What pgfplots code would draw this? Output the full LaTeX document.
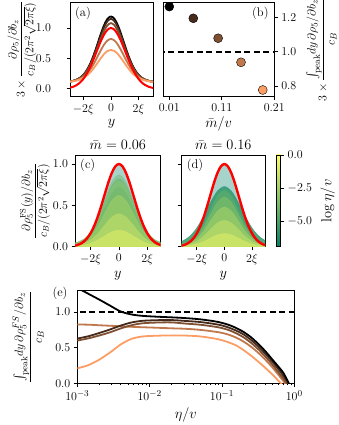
\documentclass[border=0pt]{standalone}
\usepackage{amsmath}
\usepackage{pgfplots}
\usepackage{pgfplotstable}
\pgfplotsset{compat=1.18}

% copper colours, one per mass
\definecolor{cu1}{RGB}{0,0,0}
\definecolor{cu2}{RGB}{70,42,27}
\definecolor{cu3}{RGB}{128,80,51}
\definecolor{cu4}{RGB}{192,120,76}
\definecolor{cu5}{RGB}{252,158,100}
% summer colours, one per log(eta/v)
\definecolor{sm1}{rgb}{0,0.5,0.4}
\definecolor{sm2}{rgb}{0.13,0.565,0.4}
\definecolor{sm3}{rgb}{0.275,0.638,0.4}
\definecolor{sm4}{rgb}{0.42,0.71,0.4}
\definecolor{sm5}{rgb}{0.565,0.783,0.4}
\definecolor{sm6}{rgb}{0.71,0.855,0.4}
\definecolor{sm7}{rgb}{0.826,0.913,0.4}
\definecolor{sm8}{rgb}{0.928,0.964,0.4}
\definecolor{smtop}{rgb}{1,1,0.4}

\pgfplotsset{
  every axis/.append style={
    scale only axis, anchor=south west,
    tick align=outside, tick pos=left,
    major tick length=3.5pt, minor tick length=2pt,
    axis line style={line width=0.8pt},
    tick style={black, line width=0.7pt},
    tick label style={font=\fontsize{12.5}{14}\selectfont},
    label style={font=\fontsize{14}{16}\selectfont},
    title style={font=\fontsize{14}{16}\selectfont},
  },
  fillc/.style={draw=#1, draw opacity=0.35, fill=#1, fill opacity=0.45, smooth},
}

% panel (a): profiles for five masses, and the gaussian
\pgfplotstableread{
x c1 c2 c3 c4 c5 r
-3.25 0.110 0.110 0.110 0.109 0.109 0.008
-3.00 0.118 0.118 0.118 0.117 0.116 0.017
-2.75 0.130 0.130 0.129 0.126 0.124 0.032
-2.50 0.149 0.148 0.147 0.140 0.136 0.059
-2.25 0.180 0.178 0.175 0.162 0.153 0.101
-2.00 0.230 0.227 0.220 0.195 0.179 0.163
-1.75 0.307 0.300 0.289 0.246 0.217 0.249
-1.50 0.415 0.405 0.386 0.317 0.270 0.360
-1.25 0.556 0.540 0.512 0.409 0.338 0.492
-1.00 0.722 0.699 0.661 0.517 0.417 0.635
-0.75 0.893 0.865 0.815 0.628 0.499 0.775
-0.50 1.046 1.012 0.951 0.727 0.572 0.893
-0.25 1.152 1.114 1.046 0.795 0.622 0.972
0.00 1.190 1.150 1.080 0.820 0.640 1.000
0.25 1.152 1.114 1.046 0.795 0.622 0.972
0.50 1.046 1.012 0.951 0.727 0.572 0.893
0.75 0.893 0.865 0.815 0.628 0.499 0.775
1.00 0.722 0.699 0.661 0.517 0.417 0.635
1.25 0.556 0.540 0.512 0.409 0.338 0.492
1.50 0.415 0.405 0.386 0.317 0.270 0.360
1.75 0.307 0.300 0.289 0.246 0.217 0.249
2.00 0.230 0.227 0.220 0.195 0.179 0.163
2.25 0.180 0.178 0.175 0.162 0.153 0.101
2.50 0.149 0.148 0.147 0.140 0.136 0.059
2.75 0.130 0.130 0.129 0.126 0.124 0.032
3.00 0.118 0.118 0.118 0.117 0.116 0.017
3.25 0.110 0.110 0.110 0.109 0.109 0.008
}\tabA

% panel (c): m = 0.06, one column per eta
\pgfplotstableread{
x f1 f2 f3 f4 f5 f6 f7 f8
-3.5 0.027 0.032 0.036 0.039 0.036 0.028 0.018 0.009
-3.0 0.037 0.044 0.050 0.053 0.049 0.038 0.024 0.012
-2.5 0.063 0.075 0.086 0.091 0.084 0.065 0.042 0.021
-2.0 0.124 0.148 0.169 0.179 0.165 0.128 0.082 0.041
-1.5 0.237 0.284 0.324 0.343 0.316 0.245 0.158 0.079
-1.0 0.393 0.472 0.538 0.570 0.524 0.406 0.262 0.131
-0.5 0.539 0.647 0.737 0.782 0.719 0.557 0.359 0.180
0.0 0.600 0.720 0.820 0.870 0.800 0.620 0.400 0.200
0.5 0.539 0.647 0.737 0.782 0.719 0.557 0.359 0.180
1.0 0.393 0.472 0.538 0.570 0.524 0.406 0.262 0.131
1.5 0.237 0.284 0.324 0.343 0.316 0.245 0.158 0.079
2.0 0.124 0.148 0.169 0.179 0.165 0.128 0.082 0.041
2.5 0.063 0.075 0.086 0.091 0.084 0.065 0.042 0.021
3.0 0.037 0.044 0.050 0.053 0.049 0.038 0.024 0.012
3.5 0.027 0.032 0.036 0.039 0.036 0.028 0.018 0.009
}\tabC

% panel (d): m = 0.16
\pgfplotstableread{
x f1 f2 f3 f4 f5 f6 f7 f8
-3.5 0.043 0.043 0.042 0.030 0.027 0.021 0.014 0.007
-3.0 0.072 0.071 0.070 0.042 0.037 0.029 0.020 0.010
-2.5 0.129 0.127 0.125 0.071 0.063 0.050 0.033 0.017
-2.0 0.229 0.226 0.223 0.140 0.124 0.099 0.066 0.033
-1.5 0.375 0.370 0.365 0.268 0.237 0.189 0.126 0.063
-1.0 0.541 0.533 0.526 0.446 0.393 0.315 0.210 0.105
-0.5 0.677 0.668 0.658 0.611 0.539 0.431 0.288 0.144
0.0 0.730 0.720 0.710 0.680 0.600 0.480 0.320 0.160
0.5 0.677 0.668 0.658 0.611 0.539 0.431 0.288 0.144
1.0 0.541 0.533 0.526 0.446 0.393 0.315 0.210 0.105
1.5 0.375 0.370 0.365 0.268 0.237 0.189 0.126 0.063
2.0 0.229 0.226 0.223 0.140 0.124 0.099 0.066 0.033
2.5 0.129 0.127 0.125 0.071 0.063 0.050 0.033 0.017
3.0 0.072 0.071 0.070 0.042 0.037 0.029 0.020 0.010
3.5 0.043 0.043 0.042 0.030 0.027 0.021 0.014 0.007
}\tabD

% panel (e): peak integral against eta/v
\pgfplotstableread{
eta c1 c2 c3 c4 c5
0.001    1.340 0.628 0.600 0.825 0.210
0.001413 1.258 0.660 0.630 0.823 0.254
0.001995 1.177 0.705 0.670 0.815 0.330
0.002818 1.092 0.755 0.715 0.808 0.430
0.003981 1.008 0.810 0.770 0.800 0.545
0.005623 0.966 0.854 0.815 0.793 0.624
0.007943 0.947 0.877 0.842 0.787 0.657
0.01259  0.935 0.886 0.853 0.780 0.668
0.01995  0.926 0.888 0.855 0.772 0.672
0.03162  0.915 0.875 0.838 0.765 0.670
0.05012  0.898 0.860 0.822 0.750 0.658
0.07943  0.870 0.832 0.795 0.725 0.628
0.1      0.848 0.812 0.775 0.708 0.605
0.1259   0.818 0.780 0.745 0.680 0.572
0.1585   0.775 0.738 0.700 0.640 0.530
0.1995   0.720 0.685 0.645 0.585 0.465
0.2512   0.648 0.610 0.570 0.515 0.390
0.3162   0.555 0.520 0.480 0.430 0.305
0.3981   0.450 0.415 0.375 0.330 0.216
0.5012   0.330 0.300 0.260 0.220 0.120
0.6310   0.210 0.175 0.130 0.095 0.015
0.7079   0.145 0.105 0.065 0.030 -0.040
0.7943   0.050 0.030 -0.010 -0.040 -0.090
0.8511   -0.010 -0.020 -0.060 -0.090 -0.130
}\tabE

\begin{document}
\begin{tikzpicture}
\path[use as bounding box] (0,0) rectangle (339pt,425pt);

% (a)
\begin{axis}[at={(70pt,328.3pt)}, width=83pt, height=94.2pt,
  xmin=-2.97, xmax=3.05, ymin=-0.13, ymax=1.42,
  xtick={-2,0,2}, xticklabels={$-2\xi$,$0$,$2\xi$},
  ytick={0,0.5,1}, yticklabels={$0.0$,$0.5$,$1.0$},
  yticklabel style={xshift=-12pt},
  xlabel={$y$}, xlabel style={yshift=2pt},
  ylabel={$3\times\dfrac{\partial\rho_5/\partial b_z}{c_B/(2\pi^2\sqrt{2\pi\xi})}$},
  ylabel style={at={(rel axis cs:0,0.5)}, anchor=center, yshift=48pt,
    font=\fontsize{11.5}{13}\selectfont}]
\addplot[cu1, line width=1.8pt, smooth] table[x=x, y=c1]{\tabA};
\addplot[cu2, line width=1.8pt, smooth] table[x=x, y=c2]{\tabA};
\addplot[cu3, line width=1.8pt, smooth] table[x=x, y=c3]{\tabA};
\addplot[cu4, line width=1.8pt, smooth] table[x=x, y=c4]{\tabA};
\addplot[cu5, line width=1.8pt, smooth] table[x=x, y=c5]{\tabA};
\addplot[red, line width=2pt, smooth] table[x=x, y=r]{\tabA};
\node[anchor=north west, font=\fontsize{12.5}{14}\selectfont] at (rel axis cs:0.02,0.99) {(a)};
\end{axis}

% (b)
\begin{axis}[at={(163pt,328.3pt)}, width=111.3pt, height=94.2pt,
  xmin=-0.002, xmax=0.21, ymin=0.738, ymax=1.286,
  clip marker paths=true,
  xtick={0.01,0.11,0.21}, xticklabels={$0.01$,$0.11$,$0.21$},
  ytick={0.8,1.0,1.2}, yticklabels={$0.8$,$1.0$,$1.2$},
  ytick pos=right, yticklabel pos=right,
  xlabel={$\bar m/v$}, xlabel style={yshift=2pt},
  ylabel={$3\times\dfrac{{\textstyle\int_{\mathrm{peak}}}dy\,\partial\rho_5/\partial b_z}{c_B}$},
  ylabel style={at={(rel axis cs:1,0.5)}, anchor=center, yshift=-47pt,
    font=\fontsize{12.5}{14}\selectfont}]
\addplot[black, line width=1.8pt, dash pattern=on 6pt off 3.5pt] coordinates {(-0.01,1) (0.22,1)};
\addplot[only marks, mark=*, mark size=4.5pt, draw=none, fill=cu1] coordinates {(0.01,1.262)};
\addplot[only marks, mark=*, mark size=4.5pt, draw=none, fill=cu2] coordinates {(0.0557,1.194)};
\addplot[only marks, mark=*, mark size=4.5pt, draw=none, fill=cu3] coordinates {(0.103,1.078)};
\addplot[only marks, mark=*, mark size=4.5pt, draw=none, fill=cu4] coordinates {(0.1466,0.938)};
\addplot[only marks, mark=*, mark size=4.5pt, draw=none, fill=cu5] coordinates {(0.188,0.777)};
\node[anchor=north east, font=\fontsize{12.5}{14}\selectfont] at (rel axis cs:0.98,0.99) {(b)};
\end{axis}

% (c)
\begin{axis}[at={(75pt,178.3pt)}, width=85.7pt, height=91.7pt,
  xmin=-3.1, xmax=2.95, ymin=0, ymax=1.109,
  xtick={-2,0,2}, xticklabels={$-2\xi$,$0$,$2\xi$},
  ytick={0,0.5,1}, yticklabels={$0.0$,$0.5$,$1.0$},
  title={$\bar m = 0.06$}, title style={yshift=-4pt}, xlabel={$y$},
  ylabel={$\dfrac{\partial\rho_5^{\mathrm{FS}}(y)/\partial b_z}{c_B/(2\pi^2\sqrt{2\pi\xi})}$},
  ylabel style={at={(rel axis cs:0,0.5)}, anchor=center, yshift=40pt,
    font=\fontsize{11.5}{13}\selectfont}]
\addplot[draw=none, fill=sm1, fill opacity=0.35, smooth] table[x=x, y=r]{\tabA} \closedcycle;
\addplot[fillc=sm1] table[x=x, y=f1]{\tabC} \closedcycle;
\addplot[fillc=sm2] table[x=x, y=f2]{\tabC} \closedcycle;
\addplot[fillc=sm3] table[x=x, y=f3]{\tabC} \closedcycle;
\addplot[fillc=sm4] table[x=x, y=f4]{\tabC} \closedcycle;
\addplot[fillc=sm5] table[x=x, y=f5]{\tabC} \closedcycle;
\addplot[fillc=sm6] table[x=x, y=f6]{\tabC} \closedcycle;
\addplot[fillc=sm7] table[x=x, y=f7]{\tabC} \closedcycle;
\addplot[fillc=sm8] table[x=x, y=f8]{\tabC} \closedcycle;
\addplot[red, line width=2.4pt, smooth] table[x=x, y=r]{\tabA};
\node[anchor=north west, font=\fontsize{12.5}{14}\selectfont] at (rel axis cs:0.02,0.99) {(c)};
\end{axis}

% (d)
\begin{axis}[at={(181.7pt,178.3pt)}, width=83.3pt, height=91.7pt,
  xmin=-3.1, xmax=2.95, ymin=0, ymax=1.109,
  xtick={-2,0,2}, xticklabels={$-2\xi$,$0$,$2\xi$},
  ytick={0,0.5,1}, yticklabels={},
  title={$\bar m = 0.16$}, title style={yshift=-4pt}, xlabel={$y$}]
\addplot[draw=none, fill=sm1, fill opacity=0.35, smooth] table[x=x, y=r]{\tabA} \closedcycle;
\addplot[fillc=sm1] table[x=x, y=f1]{\tabD} \closedcycle;
\addplot[fillc=sm2] table[x=x, y=f2]{\tabD} \closedcycle;
\addplot[fillc=sm3] table[x=x, y=f3]{\tabD} \closedcycle;
\addplot[fillc=sm4] table[x=x, y=f4]{\tabD} \closedcycle;
\addplot[fillc=sm5] table[x=x, y=f5]{\tabD} \closedcycle;
\addplot[fillc=sm6] table[x=x, y=f6]{\tabD} \closedcycle;
\addplot[fillc=sm7] table[x=x, y=f7]{\tabD} \closedcycle;
\addplot[fillc=sm8] table[x=x, y=f8]{\tabD} \closedcycle;
\addplot[red, line width=2.4pt, smooth] table[x=x, y=r]{\tabA};
\node[anchor=north west, font=\fontsize{12.5}{14}\selectfont] at (rel axis cs:0.02,0.99) {(d)};
\end{axis}

% colour bar
\begin{axis}[at={(276.7pt,178.3pt)}, width=4pt, height=91.7pt,
  xmin=0, xmax=1, ymin=-6.908, ymax=0, axis on top,
  xtick=\empty, ytick={-5,-2.5,0}, yticklabels={$-5.0$,$-2.5$,$0.0$},
  ytick pos=right, yticklabel pos=right,
  ylabel={$\log\eta/v$},
  ylabel style={at={(rel axis cs:1,0.5)}, anchor=center, yshift=-47pt}]
\fill[bottom color=sm1, top color=smtop] (rel axis cs:0,0) rectangle (rel axis cs:1,1);
\end{axis}

% (e)
\begin{axis}[at={(77.3pt,41.7pt)}, width=217pt, height=92.6pt,
  xmode=log, xmin=0.001, xmax=1, ymin=0, ymax=1.3,
  ytick={0,0.5,1}, yticklabels={$0.0$,$0.5$,$1.0$},
  xlabel={$\eta/v$},
  ylabel={$\dfrac{{\textstyle\int_{\mathrm{peak}}}dy\,\partial\rho_5^{FS}/\partial b_z}{c_B}$},
  ylabel style={at={(rel axis cs:0,0.5)}, anchor=center, yshift=49pt,
    font=\fontsize{12.5}{14}\selectfont}]
\addplot[black, line width=1.8pt, dash pattern=on 6pt off 3.5pt] coordinates {(0.0008,1) (1.2,1)};
\addplot[cu5, line width=1.8pt, smooth] table[x=eta, y=c5]{\tabE};
\addplot[cu4, line width=1.8pt, smooth] table[x=eta, y=c4]{\tabE};
\addplot[cu3, line width=1.8pt, smooth] table[x=eta, y=c3]{\tabE};
\addplot[cu2, line width=1.8pt, smooth] table[x=eta, y=c2]{\tabE};
\addplot[cu1, line width=1.8pt, smooth] table[x=eta, y=c1]{\tabE};
\end{axis}
\node[font=\fontsize{12.5}{14}\selectfont] at (60pt,132pt) {(e)};

\end{tikzpicture}
\end{document}
